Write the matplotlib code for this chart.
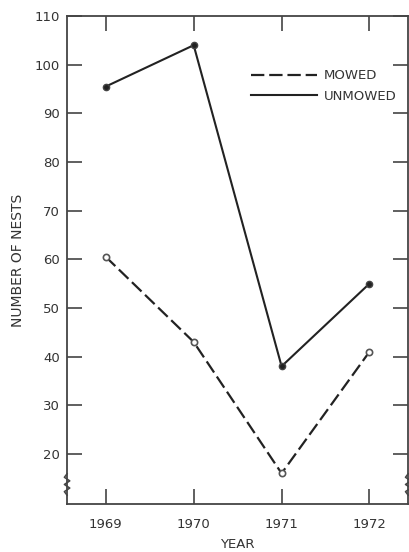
import matplotlib.pyplot as plt
import numpy as np

years = [1969, 1970, 1971, 1972]
mowed = [60.5, 43, 16, 41]
unmowed = [95.5, 104, 38, 55]
yticks = [20, 30, 40, 50, 60, 70, 80, 90, 100, 110]

ink = '#222222'
plt.rcParams['font.family'] = ['DejaVu Sans']

fig = plt.figure(figsize=(4.09, 5.52), dpi=100)
ax = fig.add_axes([0.164, 0.087, 0.834, 0.884])

ax.plot(years, mowed, color=ink, lw=1.6, dashes=(6, 2.2), zorder=2)
ax.plot(years, mowed, 'o', ms=4.5, mfc='white', mec='#555555', mew=1.2, zorder=3)
ax.plot(years, unmowed, color=ink, lw=1.5, zorder=2)
ax.plot(years, unmowed, 'o', ms=4.5, mfc=ink, mec='#444444', zorder=3)

# legend drawn as plain lines + labels
ax.plot([], [], color=ink, lw=1.6, dashes=(6, 2.2), label='MOWED')
ax.plot([], [], color=ink, lw=1.5, label='UNMOWED')
h, l = ax.get_legend_handles_labels()
ax.legend(h[-2:], l[-2:], loc='upper right', bbox_to_anchor=(1.0, 0.915),
          frameon=False, handlelength=5.0, handletextpad=0.5,
          labelspacing=0.55, fontsize=9.5, labelcolor='#333333')

ax.set_xlim(1968.56, 1972.44)
ax.set_ylim(9.7, 110)
ax.set_xticks(years)
ax.set_yticks(yticks)
ax.set_yticklabels([str(v) for v in yticks])

ax.tick_params(axis='both', direction='in', length=11, width=1.2,
               colors='#444444', labelcolor='#333333', labelsize=9.5)
ax.tick_params(axis='y', right=True, pad=5)
ax.tick_params(axis='x', top=True, pad=10)
for s in ax.spines.values():
    s.set_linewidth(1.3)
    s.set_color('#444444')

ax.set_xlabel('YEAR', fontsize=9.5, color='#333333', labelpad=5)
ax.set_ylabel('NUMBER OF NESTS', fontsize=10, color='#333333', labelpad=7)

# axis break squiggles
zy = np.linspace(0.018, 0.062, 7)
zx = np.array([0, -1, 1, -1, 1, -1, 0]) * 0.008
for x0 in (0.0, 1.0):
    ax.plot(x0 + zx, zy, color='#444444', lw=1.1, transform=ax.transAxes,
            clip_on=False)

fig.savefig('out.png', dpi=100)
